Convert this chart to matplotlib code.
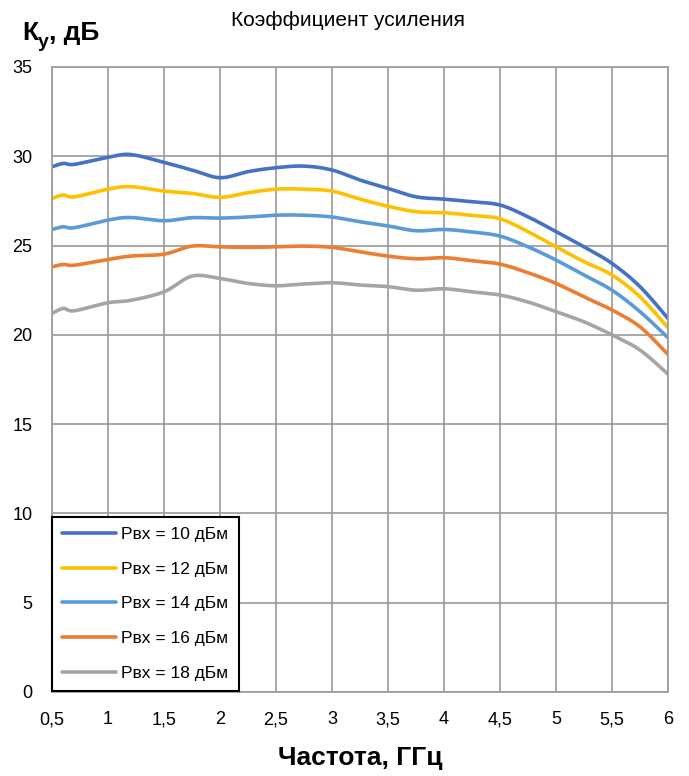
import numpy as np
import matplotlib
matplotlib.use("Agg")
import matplotlib.pyplot as plt

plt.rcParams['font.family'] = ['Liberation Sans Narrow', 'Liberation Sans', 'DejaVu Sans']

freq = [0.5, 0.6, 0.7, 1.0, 1.2, 1.5, 1.75, 2.0, 2.25, 2.5, 2.75, 3.0, 3.25,
        3.5, 3.75, 4.0, 4.25, 4.5, 4.75, 5.0, 5.25, 5.5, 5.75, 6.0]

k_10 = [29.41, 29.60, 29.55, 29.94, 30.10, 29.66, 29.23, 28.80, 29.14, 29.36, 29.45, 29.23, 28.67,
        28.20, 27.73, 27.60, 27.45, 27.27, 26.61, 25.78, 24.93, 24.00, 22.70, 20.92]
k_12 = [27.64, 27.83, 27.73, 28.16, 28.30, 28.05, 27.92, 27.70, 27.96, 28.16, 28.16, 28.05, 27.60,
        27.20, 26.90, 26.84, 26.69, 26.50, 25.78, 24.93, 24.10, 23.35, 22.13, 20.40]
k_14 = [25.90, 26.05, 26.00, 26.43, 26.57, 26.39, 26.56, 26.54, 26.60, 26.70, 26.70, 26.60, 26.33,
        26.10, 25.83, 25.90, 25.76, 25.53, 24.93, 24.19, 23.35, 22.50, 21.30, 19.84]
k_16 = [23.81, 23.94, 23.90, 24.22, 24.41, 24.52, 24.97, 24.93, 24.90, 24.93, 24.97, 24.90, 24.65,
        24.41, 24.26, 24.32, 24.15, 23.96, 23.48, 22.88, 22.13, 21.39, 20.45, 18.90]
k_18 = [21.20, 21.48, 21.35, 21.80, 21.93, 22.41, 23.29, 23.16, 22.88, 22.75, 22.85, 22.92, 22.79,
        22.70, 22.50, 22.58, 22.41, 22.23, 21.84, 21.30, 20.73, 20.00, 19.15, 17.80]

series = [k_10, k_12, k_14, k_16, k_18]
labels = ["Рвх = 10 дБм", "Рвх = 12 дБм", "Рвх = 14 дБм", "Рвх = 16 дБм", "Рвх = 18 дБм"]
colors = ["#4472C4", "#FFC000", "#5B9BD5", "#ED7D31", "#A5A5A5"]


def smooth(x, y, n=20):
    # catmull-rom style curve, like excel smoothed lines
    x = np.asarray(x, float)
    y = np.asarray(y, float)
    px = np.concatenate([[x[0]], x, [x[-1]]])
    py = np.concatenate([[y[0]], y, [y[-1]]])
    xs, ys = [], []
    t = np.linspace(0, 1, n, endpoint=False)
    for i in range(1, len(px) - 2):
        p0, p1, p2, p3 = [np.array([px[j], py[j]]) for j in range(i - 1, i + 3)]
        c1 = p1 + (p2 - p0) / 6
        c2 = p2 - (p3 - p1) / 6
        b = (((1 - t) ** 3)[:, None] * p1 + (3 * (1 - t) ** 2 * t)[:, None] * c1
             + (3 * (1 - t) * t ** 2)[:, None] * c2 + (t ** 3)[:, None] * p2)
        xs.extend(b[:, 0])
        ys.extend(b[:, 1])
    xs.append(x[-1])
    ys.append(y[-1])
    return xs, ys


fig = plt.figure(figsize=(6.89, 7.76), dpi=100)
ax = fig.add_axes([52 / 689, 84 / 776, 616 / 689, 625 / 776])

for vals, lab, col in zip(series, labels, colors):
    sx, sy = smooth(freq, vals)
    ax.plot(sx, sy, color=col, linewidth=2.6, label=lab, solid_capstyle="round")

ax.set_xlim(0.5, 6)
ax.set_ylim(0, 35)
xt = np.arange(0.5, 6.01, 0.5)
ax.set_xticks(xt)
ax.set_xticklabels([("%g" % v).replace(".", ",") for v in xt])
ax.set_yticks(range(0, 36, 5))
ax.tick_params(length=0, labelsize=13, pad=14)
ax.grid(True, color="#9a9a9a", linewidth=1.2)
for s in ax.spines.values():
    s.set_color("#9a9a9a")
    s.set_linewidth(1.2)
ax.set_axisbelow(True)

leg = ax.legend(loc="lower left", bbox_to_anchor=(52 / 689, 85 / 776),
                bbox_transform=fig.transFigure, borderaxespad=0, fontsize=12.5,
                fancybox=False, framealpha=1, edgecolor="black", handlelength=3.1,
                labelspacing=1.12, handletextpad=0.3, borderpad=0.6)
leg.get_frame().set_linewidth(1.5)

fig.text(348 / 689, 1 - 20 / 776, "Коэффициент усиления", ha="center", va="center", fontsize=15)

t1 = fig.text(22 / 689, 1 - 33 / 776, "К", ha="left", va="center", fontsize=19, fontweight="bold")
ax.annotate("у", xy=(1, 0), xycoords=t1, xytext=(0, -4), textcoords="offset points",
            ha="left", va="bottom", fontsize=14, fontweight="bold", annotation_clip=False)
ax.annotate(", дБ", xy=(1, 0), xycoords=t1, xytext=(8, 0), textcoords="offset points",
            ha="left", va="bottom", fontsize=19, fontweight="bold", annotation_clip=False)

fig.text(360 / 689, 1 - 758 / 776, "Частота, ГГц", ha="center", va="center", fontsize=19, fontweight="bold")

fig.savefig("out.png", dpi=100)
